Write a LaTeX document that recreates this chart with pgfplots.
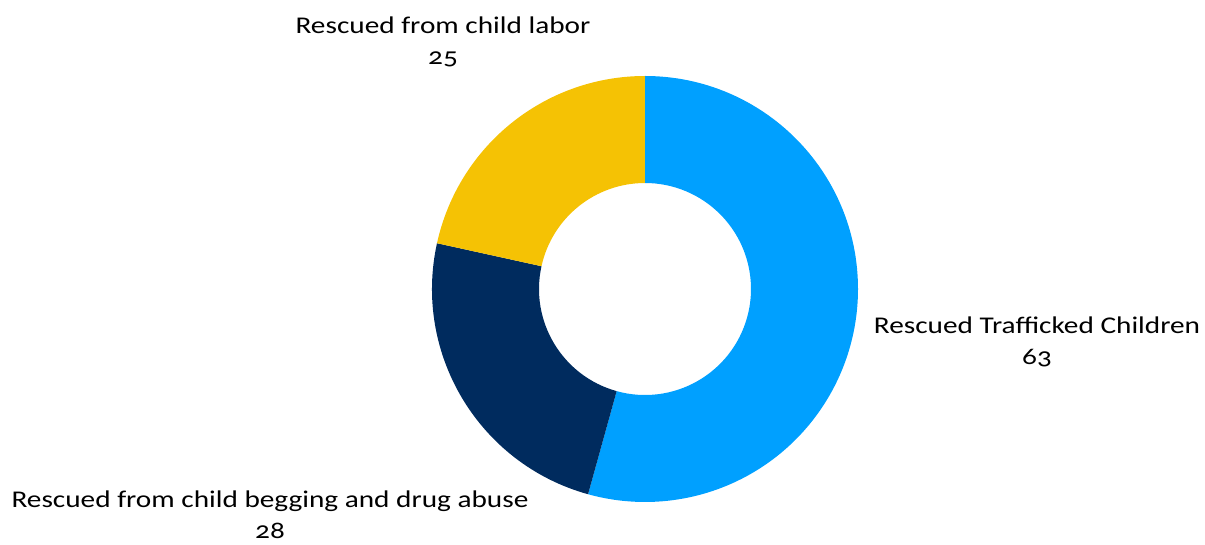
\documentclass[border=0pt]{standalone}
\usepackage{fontspec}
\setmainfont[Numbers=OldStyle, FakeStretch=1.22]{Carlito}
\usepackage{pgfplots}
\usepackage{pgfplotstable}
\pgfplotsset{compat=1.18}
\definecolor{cblue}{RGB}{0,160,255}
\definecolor{cnavy}{RGB}{0,43,94}
\definecolor{cyellow}{RGB}{245,194,4}
\pgfplotstableread{
value
63
28
25
}\donutdata
\begin{document}
\begin{tikzpicture}
\pgfplotstablegetelem{0}{value}\of\donutdata \let\va\pgfplotsretval
\pgfplotstablegetelem{1}{value}\of\donutdata \let\vb\pgfplotsretval
\pgfplotstablegetelem{2}{value}\of\donutdata \let\vc\pgfplotsretval
\pgfmathsetmacro{\tot}{\va+\vb+\vc}
\pgfmathsetmacro{\aA}{90}
\pgfmathsetmacro{\aB}{90-360*(\va/\tot)}
\pgfmathsetmacro{\aC}{\aB-360*(\vb/\tot)}
\pgfmathsetmacro{\aD}{\aC-360*(\vc/\tot)}
\def\Ro{106.5bp}
\def\Ri{53bp}
\begin{axis}[scale only axis, width=602.5bp, height=272.5bp,
  xmin=0, xmax=1205, ymin=0, ymax=545, hide axis, clip=false]
\path (axis cs:0,0) rectangle (axis cs:1205,545);
\fill[cblue] ([shift={(\aA:\Ro)}]axis cs:645,256) arc[start angle=\aA, end angle=\aB, radius=\Ro]
  -- ([shift={(\aB:\Ri)}]axis cs:645,256) arc[start angle=\aB, end angle=\aA, radius=\Ri] -- cycle;
\fill[cnavy] ([shift={(\aB:\Ro)}]axis cs:645,256) arc[start angle=\aB, end angle=\aC, radius=\Ro]
  -- ([shift={(\aC:\Ri)}]axis cs:645,256) arc[start angle=\aC, end angle=\aB, radius=\Ri] -- cycle;
\fill[cyellow] ([shift={(\aC:\Ro)}]axis cs:645,256) arc[start angle=\aC, end angle=\aD, radius=\Ro]
  -- ([shift={(\aD:\Ri)}]axis cs:645,256) arc[start angle=\aD, end angle=\aC, radius=\Ri] -- cycle;
\node[align=center, inner sep=0pt, font=\fontsize{12bp}{15.5bp}\selectfont] at (axis cs:1037,203) {Rescued Trafficked Children\\\va};
\node[align=center, inner sep=0pt, font=\fontsize{12bp}{15.5bp}\selectfont] at (axis cs:270,30) {Rescued from child begging and drug abuse\\\vb};
\node[align=center, inner sep=0pt, font=\fontsize{12bp}{15.5bp}\selectfont] at (axis cs:443,503) {Rescued from child labor\\\vc};
\end{axis}
\end{tikzpicture}
\end{document}
